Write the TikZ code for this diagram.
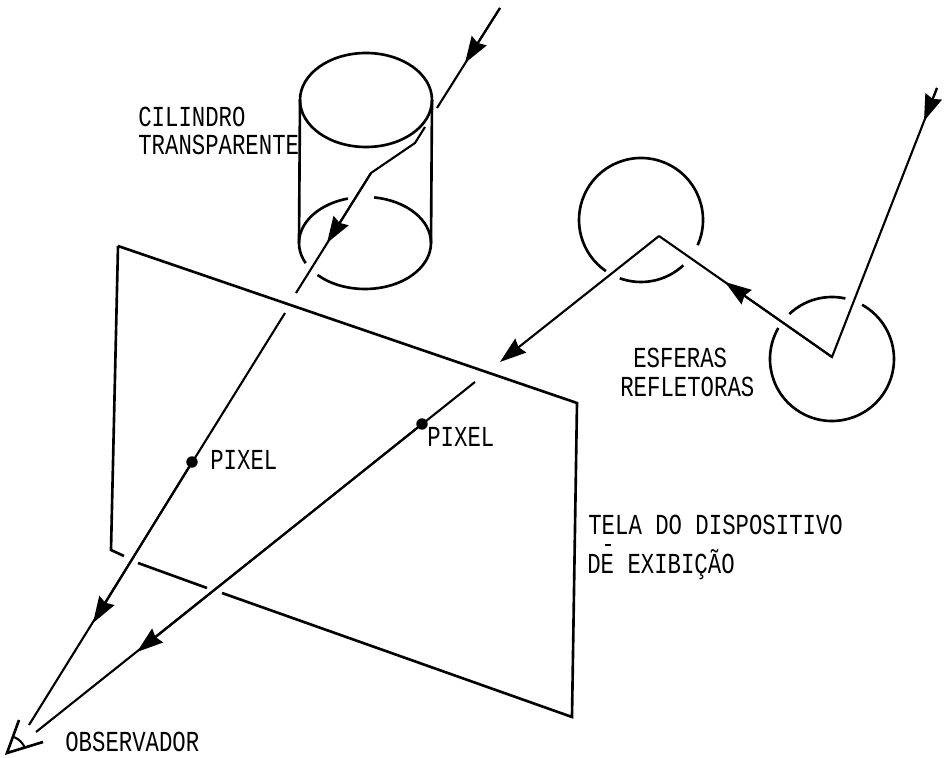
\documentclass[tikz,border=0pt]{standalone}
\usepackage{fontspec}
\setmainfont[FakeStretch=0.77]{Liberation Mono}
\usetikzlibrary{arrows.meta}

\begin{document}
\begin{tikzpicture}[
x=0.02cm, y=0.02cm,
outline/.style={line width=1.5pt},
ray/.style={line width=1.2pt},
rayhead/.style={ray, -{Stealth[length=15pt,width=10pt,inset=1.5pt]}},
label/.style={anchor=west, inner sep=0pt, font=\fontsize{16.5}{18}\selectfont},
pixeldot/.style={circle, fill, inner sep=0pt, minimum size=6.5pt}
]
\useasboundingbox (0,0) rectangle (948,758);

\coordinate (cyltop) at (366,658);
\coordinate (cylbot) at (365,515);
\coordinate (screenA) at (118,512);
\coordinate (screenB) at (577,355);
\coordinate (screenC) at (572,41);
\coordinate (screenD) at (111,208);
\coordinate (sphereL) at (641,538);
\coordinate (sphereR) at (832,399);

% cylinder
\draw[outline] (cyltop) ellipse [x radius=66, y radius=47];
\draw[outline] (300,658) -- (299,515);
\draw[outline] (432,658) -- (431,515);
\draw[outline] (cylbot) ++(105:66 and 46) arc[start angle=105, end angle=206, x radius=66, y radius=46];
\draw[outline] (cylbot) ++(82:66 and 46) arc[start angle=82, end angle=0, x radius=66, y radius=46];
\draw[outline] (cylbot) ++(224:66 and 46) arc[start angle=224, end angle=360, x radius=66, y radius=46];

% screen
\draw[outline] (screenA) -- (screenB) -- (screenC) -- (222,165);
\draw[outline] (207,170) -- (138,195);
\draw[outline] (124,202) -- (screenD) -- (screenA);

% spheres
\draw[outline] (sphereL) ++(-24:62) arc[start angle=-24, end angle=235.5, radius=62];
\draw[outline] (sphereL) ++(-110:62) arc[start angle=-110, end angle=-47, radius=62];
\draw[outline] (sphereR) ++(150:62) arc[start angle=150, end angle=421, radius=62];
\draw[outline] (sphereR) ++(77.5:62) arc[start angle=77.5, end angle=133.5, radius=62];

% ray through the cylinder
\coordinate (rayA) at (500,750);
\coordinate (rayAtip) at (465,695);
\coordinate (rayAend) at (437,650);
\coordinate (rayB) at (425,631);
\coordinate (rayBtip) at (327,515);
\coordinate (rayBend) at (296,465);
\coordinate (rayC) at (285,445);
\coordinate (rayCtip) at (93,135);
\coordinate (eyeA) at (29,33);
\node[pixeldot] (pixelA) at (192,296) {};

\draw[ray] (rayA) -- (rayAend);
\draw[rayhead] (rayA) -- (rayAtip);
\draw[ray] (rayB) -- (415,615) -- (371,585) -- (rayBend);
\draw[rayhead] (371,585) -- (rayBtip);
\draw[ray] (rayC) -- (eyeA);
\draw[rayhead] (pixelA) -- (rayCtip);

% ray off the spheres
\coordinate (rayD) at (937,670);
\coordinate (rayDtip) at (924,637);
\coordinate (bounceR) at (832,401);
\coordinate (rayEtip) at (725,476);
\coordinate (bounceL) at (659,522);
\coordinate (rayFtip) at (500,396);
\coordinate (rayG) at (475,376);
\coordinate (rayGtip) at (137,106);
\coordinate (eyeB) at (36,26);
\node[pixeldot] (pixelB) at (422,334) {};

\draw[ray] (rayD) -- (bounceR) -- (bounceL);
\draw[rayhead] (rayD) -- (rayDtip);
\draw[rayhead] (bounceR) -- (rayEtip);
\draw[rayhead] (bounceL) -- (rayFtip);
\draw[ray] (rayG) -- (eyeB);
\draw[rayhead] (pixelB) -- (rayGtip);

% eye
\draw[outline] (19,38) -- (7,5) -- (43,16);
\draw[ray] (14,21) to[bend left=20] (25,10);

\node[label] (cilindro) at (138,641) {CILINDRO};
\node[label] (transparente) at (138,613) {TRANSPARENTE};
\node[label] (esferas) at (633,400) {ESFERAS};
\node[label] (refletoras) at (620,371) {REFLETORAS};
\node[label] (pixelAlabel) at (210,298) {PIXEL};
\node[label] (pixelBlabel) at (427,321) {PIXEL};
\node[label] (tela) at (588,233) {TELA DO DISPOSITIVO};
\node[label] (exibicao) at (587,193) {DE EXIBIÇÃO};
\node[label] (observador) at (65,16) {OBSERVADOR};
\draw[ray] (605,213) -- (611,213);

\end{tikzpicture}
\end{document}
